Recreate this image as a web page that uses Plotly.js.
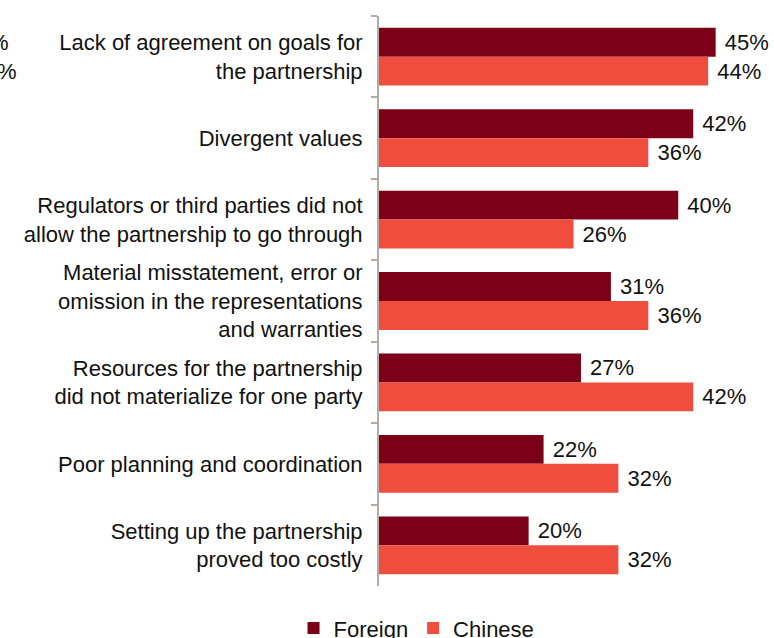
<!DOCTYPE html>
<html>
<head>
<meta charset="utf-8">
<script src="https://cdn.plot.ly/plotly-3.0.1.min.js"></script>
<style>html,body{margin:0;padding:0;background:#fff;}#chart{width:774px;height:638px;}</style>
</head>
<body>
<div id="chart"></div>
<script>
const categories = [
  "Lack of agreement on goals for<br>the partnership",
  "Divergent values",
  "Regulators or third parties did not<br>allow the partnership to go through",
  "Material misstatement, error or<br>omission in the representations<br>and warranties",
  "Resources for the partnership<br>did not materialize for one party",
  "Poor planning and coordination",
  "Setting up the partnership<br>proved too costly"
];
const foreign = [45, 42, 40, 31, 27, 22, 20];
const chinese = [44, 36, 26, 36, 42, 32, 32];
const seriesNames = ["Foreign", "Chinese"];
const fragmentLabels = ["%", "%"];

const FONT = "Liberation Sans, Arial, Helvetica, sans-serif";
const FS = 22;
const traces = [
  {type: "bar", orientation: "h", name: seriesNames[0], y: categories, x: foreign,
   marker: {color: "#7b0018", line: {width: 0}},
   texttemplate: "\u00a0%{x}%", textposition: "outside", cliponaxis: false,
   textfont: {family: FONT, size: FS, color: "#111"}, hoverinfo: "skip"},
  {type: "bar", orientation: "h", name: seriesNames[1], y: categories, x: chinese,
   marker: {color: "#ef4e3e", line: {width: 0}},
   texttemplate: "\u00a0%{x}%", textposition: "outside", cliponaxis: false,
   textfont: {family: FONT, size: FS, color: "#111"}, hoverinfo: "skip"}
];

const layout = {
  width: 774, height: 638,
  margin: {l: 379, r: 0, t: 16, b: 52, autoexpand: false},
  paper_bgcolor: "#fff", plot_bgcolor: "#fff",
  font: {family: FONT, size: FS, color: "#111"},
  barmode: "group", bargap: 0.29, bargroupgap: 0,
  showlegend: true,
  legend: {orientation: "h", x: 0.095, xanchor: "center", y: -0.074, yanchor: "middle",
           font: {family: FONT, size: FS, color: "#111"}, traceorder: "normal"},
  xaxis: {range: [0, 52.8], visible: false, showgrid: false, zeroline: false},
  yaxis: {autorange: "reversed", type: "category", showgrid: false, zeroline: false,
          showline: true, linecolor: "#b3aba4", linewidth: 2,
          ticks: "outside", tickson: "boundaries", ticklen: 6, tickcolor: "#b3aba4", tickwidth: 2,
          ticklabelstandoff: 10,
          tickfont: {family: FONT, size: FS, color: "#111"}},
  annotations: [
    {xref: "paper", yref: "paper", x: -0.932, y: 0.953, xanchor: "right", yanchor: "middle",
     text: fragmentLabels[0], showarrow: false, font: {family: FONT, size: FS, color: "#111"}},
    {xref: "paper", yref: "paper", x: -0.911, y: 0.902, xanchor: "right", yanchor: "middle",
     text: fragmentLabels[1], showarrow: false, font: {family: FONT, size: FS, color: "#111"}}
  ]
};

Plotly.newPlot("chart", traces, layout, {displayModeBar: false, staticPlot: true});
</script>
</body>
</html>
